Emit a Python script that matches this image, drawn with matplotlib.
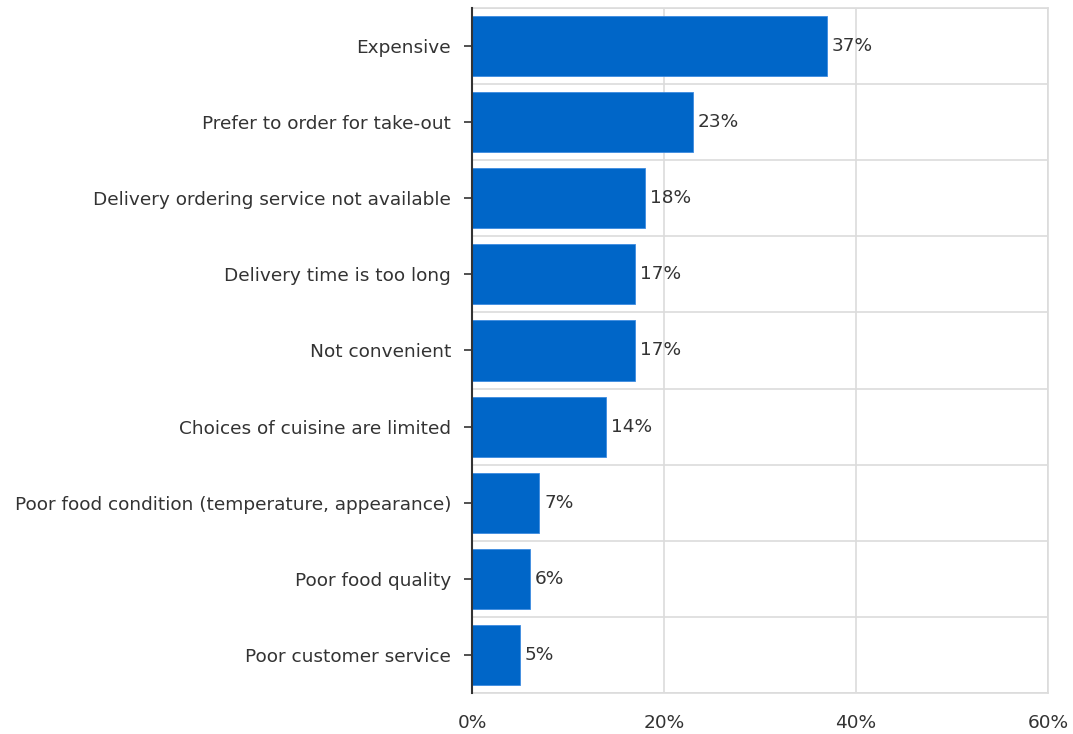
import matplotlib
matplotlib.use("Agg")
import matplotlib.pyplot as plt
from matplotlib.ticker import FixedLocator

categories = [
    "Expensive",
    "Prefer to order for take-out",
    "Delivery ordering service not available",
    "Delivery time is too long",
    "Not convenient",
    "Choices of cuisine are limited",
    "Poor food condition (temperature, appearance)",
    "Poor food quality",
    "Poor customer service",
]
values = [37, 23, 18, 17, 17, 14, 7, 6, 5]
xticks = [0, 20, 40, 60]
xtick_labels = ["0%", "20%", "40%", "60%"]

plt.rcParams['font.family'] = ['DejaVu Sans']
text_color = "#333333"
fs = 13.3

fig = plt.figure(figsize=(10.73, 7.34), dpi=100)
ax = fig.add_axes([472/1073, 1-693/734, (1048-472)/1073, (693-8)/734])

y = list(range(len(categories)))
ax.barh(y, values, height=0.79, color="#0066C8", edgecolor="#3d8be0", linewidth=0.6, zorder=3)

for yi, v in zip(y, values):
    ax.annotate(f"{v}%", (v, yi), xytext=(3.5, 0), textcoords="offset points",
                va="center", ha="left", fontsize=fs, color=text_color,
                family=['DejaVu Sans'])

ax.set_ylim(len(categories) - 0.5, -0.5)
ax.set_xlim(0, 60)
ax.set_yticks(y)
ax.set_yticklabels(categories, fontsize=fs, color=text_color, family=['DejaVu Sans'])
ax.set_xticks(xticks)
ax.set_xticklabels(xtick_labels, fontsize=fs, color=text_color, family=['DejaVu Sans'])
ax.tick_params(axis='x', length=0, pad=15)
ax.tick_params(axis='y', length=6, width=1.2, color="#333333", pad=9)

ax.yaxis.set_minor_locator(FixedLocator([i + 0.5 for i in range(-1, len(categories))]))
ax.tick_params(axis='y', which='minor', length=0)
ax.grid(axis='x', which='major', color="#dcdcdc", linewidth=1.2, zorder=0)
ax.grid(axis='y', which='minor', color="#dcdcdc", linewidth=1.2, zorder=0)

for s in ['top', 'right', 'bottom']:
    ax.spines[s].set_color("#dcdcdc")
    ax.spines[s].set_linewidth(1.2)
ax.spines['left'].set_color("#333333")
ax.spines['left'].set_linewidth(1.5)
ax.spines['left'].set_zorder(4)

fig.savefig("out.png", dpi=100, facecolor="white")
